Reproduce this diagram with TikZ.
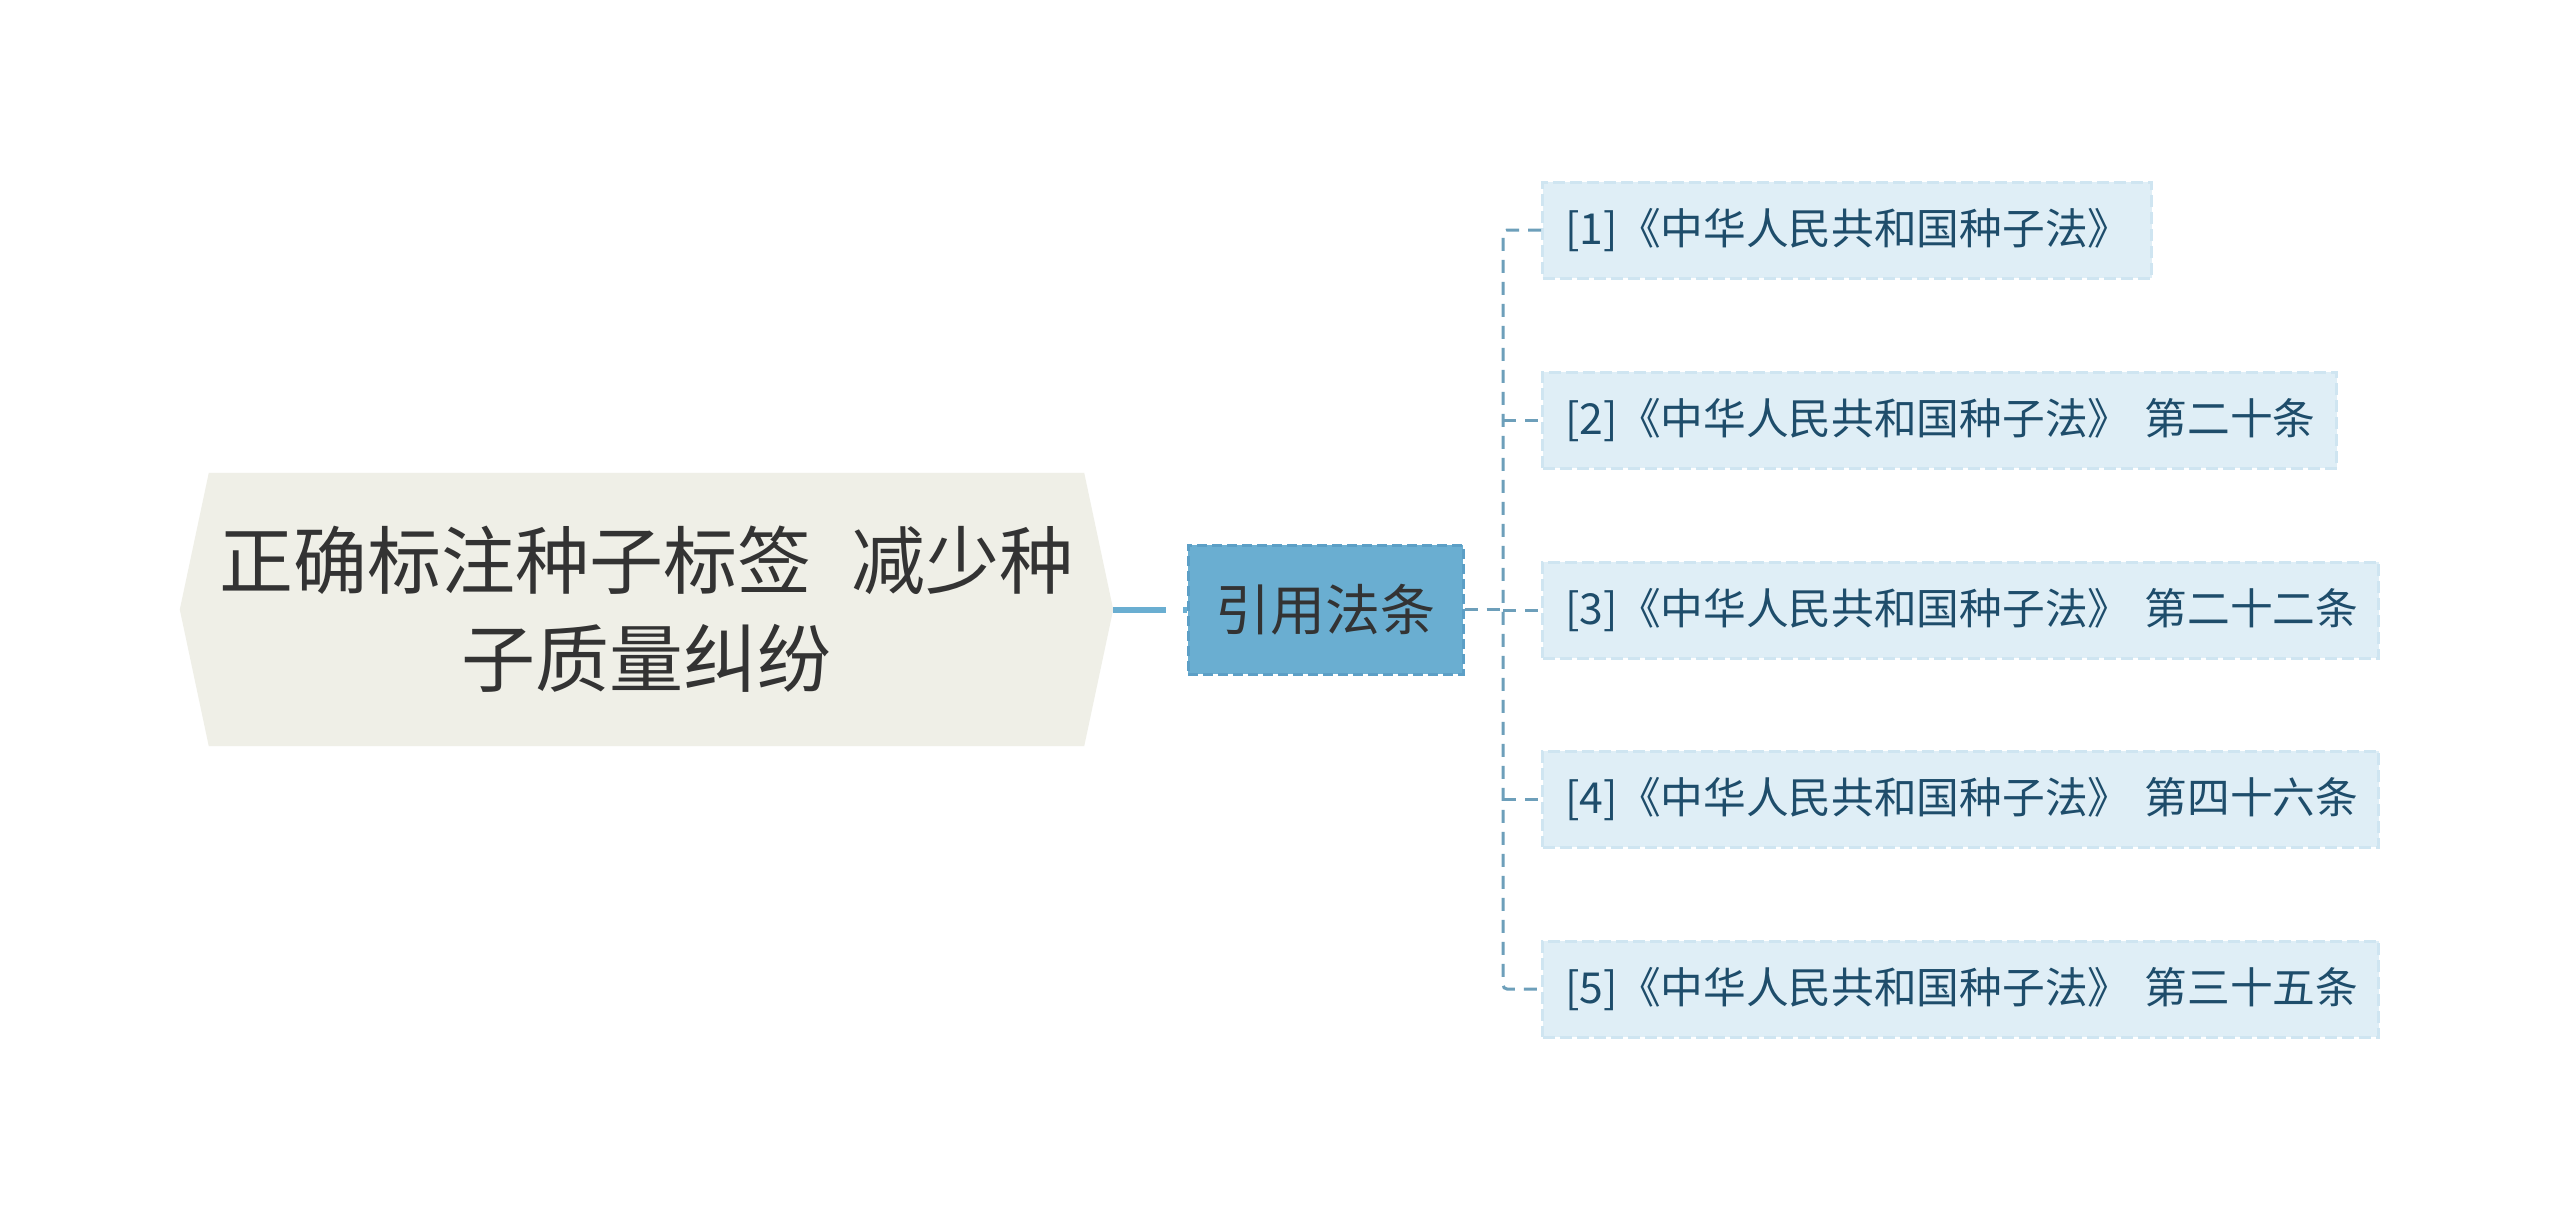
\documentclass[tikz,border=0pt]{standalone}
\usepackage{fontspec}
\setmainfont{Noto Sans CJK SC}
\usetikzlibrary{backgrounds}
\definecolor{rootfill}{HTML}{EFEFE7}
\definecolor{lawfill}{HTML}{6AAED1}
\definecolor{lawborder}{HTML}{5C9FC6}
\definecolor{kidfill}{HTML}{DFEEF6}
\definecolor{kidborder}{HTML}{CFE5F1}
\definecolor{kidtext}{HTML}{1E4D6B}
\definecolor{linkcol}{HTML}{6AAED1}
\definecolor{branchcol}{HTML}{6D9FBA}
\definecolor{txt}{HTML}{333333}
\begin{document}
\begin{tikzpicture}[x=1pt,y=-1pt,
  rootbox/.style={minimum width=933pt, minimum height=273pt, inner sep=0pt, align=center,
    font=\fontsize{74}{98}\selectfont, text=txt},
  lawbox/.style={fill=lawfill, draw=lawborder, line width=3pt, dash pattern=on 10pt off 5pt,
    minimum width=275pt, minimum height=129pt, inner sep=0pt,
    font=\fontsize{55}{60}\selectfont, text=txt},
  kidbox/.style={fill=kidfill, draw=kidborder, line width=3pt, dash pattern=on 12pt off 5pt,
    minimum height=96pt, inner xsep=23pt, inner ysep=0pt, align=left, anchor=west,
    font=\fontsize{42.7}{48}\selectfont, text=kidtext},
  rootlink/.style={draw=linkcol, line width=6pt, dash pattern=on 53pt off 17pt},
  branch/.style={draw=branchcol, line width=3pt, dash pattern=on 13pt off 9pt}
]
\useasboundingbox (0,0) rectangle (2560,1219);

\node[rootbox] (root) at (646.5,609.5) {正确标注种子标签\hspace{0.55em}减少种\\子质量纠纷};
\node[lawbox] (law) at (1325.5,609.5) {引用法条};

\node[kidbox, text width=563pt] (k1) at (1541,230) {\mbox{[1]《中华人民共和国种子法》}};
\node[kidbox, text width=748pt] (k2) at (1541,420) {\mbox{[2]《中华人民共和国种子法》 第二十条}};
\node[kidbox, text width=790pt] (k3) at (1541,610) {\mbox{[3]《中华人民共和国种子法》 第二十二条}};
\node[kidbox, text width=790pt] (k4) at (1541,799) {\mbox{[4]《中华人民共和国种子法》 第四十六条}};
\node[kidbox, text width=790pt] (k5) at (1541,989) {\mbox{[5]《中华人民共和国种子法》 第三十五条}};

\coordinate (tr) at (1503,609.5);

\draw[rootlink] (root.east) -- (law.west);
\draw[branch] (law.east) -- (tr);
\draw[branch, rounded corners=4pt] (k1.west) -| (tr) |- (k5.west);
\foreach \i in {2,3,4} {
  \draw[branch] (tr |- k\i.west) -- (k\i.west);
}

\begin{scope}[on background layer]
  \fill[white] (0,0) rectangle (2560,1219);
  \fill[rootfill] (root.west) -- ([xshift=29pt]root.north west) -- ([xshift=-29pt]root.north east)
    -- (root.east) -- ([xshift=-29pt]root.south east) -- ([xshift=29pt]root.south west) -- cycle;
\end{scope}
\end{tikzpicture}
\end{document}
